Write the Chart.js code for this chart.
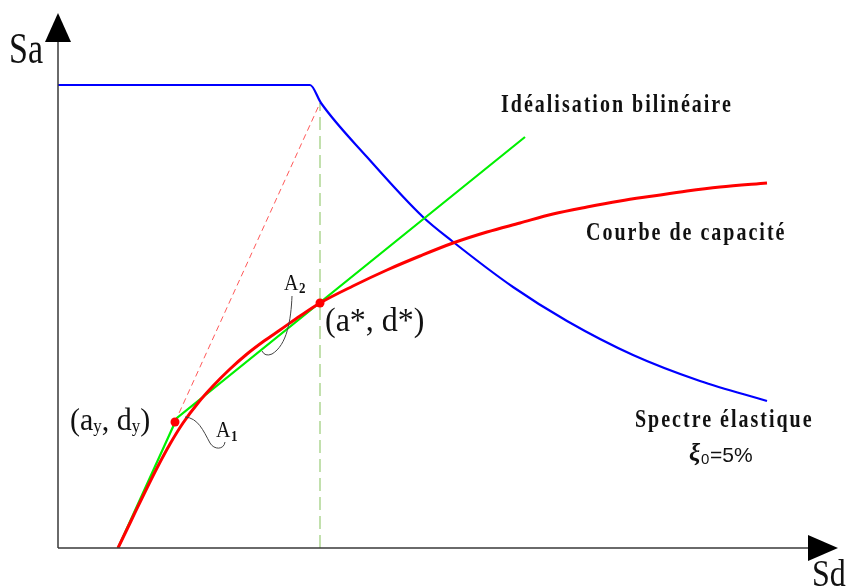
<!DOCTYPE html>
<html>
<head>
<meta charset="utf-8">
<script src="https://cdn.jsdelivr.net/npm/chart.js@4.4.1/dist/chart.umd.min.js"></script>
<style>
  body { margin: 0; background: #fff; }
  canvas { display: block; }
</style>
</head>
<body>
<canvas id="myChart" width="854" height="587"></canvas>
<script>
// spectre elastique (xi0 = 5%)
const spectreSd = [0, 25.2, 26.3, 30.9, 36.5, 39.4, 45.5, 50.9, 57.5, 64.2, 70.9];
const spectreSa = [46.3, 46.3, 44.5, 39.1, 33.1, 30.7, 26.1, 22.7, 19.3, 16.7, 14.7];

// courbe de capacite
const capaciteSd = [6.0, 7.3, 8.6, 9.9, 11.2, 12.5, 14.0, 15.5, 17.2, 18.9, 20.6, 22.2, 24.2, 26.2,
  29.5, 32.9, 36.2, 39.5, 42.9, 46.2, 49.5, 52.9, 56.2, 59.5, 62.9, 66.2, 70.9];
const capaciteSa = [0, 2.7, 5.4, 8.0, 10.4, 12.5, 14.5, 16.2, 17.9, 19.4, 20.7, 21.8, 23.2, 24.5,
  26.2, 27.8, 29.2, 30.5, 31.6, 32.5, 33.4, 34.1, 34.7, 35.2, 35.7, 36.1, 36.5];

// idealisation bilineaire
const bilinSd = [6.0, 11.9, 46.7];
const bilinSa = [0, 13.0, 41.1];

// (ay, dy) et (a*, d*)
const pointsSd = [11.7, 26.2];
const pointsSa = [12.6, 24.5];

// rigidite initiale prolongee jusqu'au spectre, et verticale en d*
const rigidSd = [11.7, 26.2];
const rigidSa = [12.6, 44.5];
const dstarSd = [26.2, 26.2];
const dstarSa = [0, 44.5];

const toXY = (xs, ys) => xs.map((x, i) => ({ x: x, y: ys[i] }));

// axes, fleches, textes et traits de repere
const decor = {
  id: 'decor',
  afterDatasetsDraw(chart) {
    const c = chart.ctx;
    const X = v => chart.scales.x.getPixelForValue(v);
    const Y = v => chart.scales.y.getPixelForValue(v);
    const x0 = X(0), y0 = Y(0);

    c.save();
    c.strokeStyle = '#3a3a3a';
    c.fillStyle = '#000';
    c.lineWidth = 1.5;
    c.beginPath();
    c.moveTo(x0, y0);
    c.lineTo(x0, 40);
    c.moveTo(x0, y0);
    c.lineTo(810, y0);
    c.stroke();
    // fleches
    c.beginPath();
    c.moveTo(x0 - 13, 42); c.lineTo(x0 + 13, 42); c.lineTo(x0, 13); c.closePath();
    c.fill();
    c.beginPath();
    c.moveTo(808, y0 - 13); c.lineTo(808, y0 + 13); c.lineTo(838, y0); c.closePath();
    c.fill();

    // traits de repere A1, A2
    c.strokeStyle = '#444';
    c.lineWidth = 1;
    c.beginPath();
    c.moveTo(185, 417);
    c.bezierCurveTo(198, 418, 203, 430, 210, 443);
    c.bezierCurveTo(214, 450, 224, 450, 225, 442);
    c.stroke();
    c.beginPath();
    c.moveTo(292, 296);
    c.bezierCurveTo(291, 320, 287, 345, 272, 354);
    c.quadraticCurveTo(265, 357, 262, 351);
    c.stroke();
    c.restore();

    const txt = (s, x, y, font, sy) => {
      c.save();
      c.translate(x, y);
      c.scale(1, sy || 1);
      c.font = font;
      c.fillStyle = '#111';
      c.textBaseline = 'alphabetic';
      c.fillText(s, 0, 0);
      c.restore();
    };
    const serif = '"Liberation Serif", "Times New Roman", serif';
    const sans = '"Liberation Sans", Arial, sans-serif';

    txt('Sa', 9, 63, '34px ' + serif, 1.3);
    txt('Sd', 812, 586, '32px ' + serif, 1.2);

    c.save();
    c.letterSpacing = '2px';
    txt('Idéalisation bilinéaire', 501, 112, 'bold 20px ' + serif, 1.25);
    txt('Courbe de capacité', 586, 240, 'bold 20px ' + serif, 1.25);
    txt('Spectre élastique', 635, 427, 'bold 20px ' + serif, 1.25);
    c.restore();

    txt('ξ', 689, 461, 'italic bold 25px ' + serif, 1);
    txt('0', 701, 464, '15px ' + sans, 1);
    txt('=5%', 710, 462, '21px ' + sans, 1);

    // (a*, d*)
    txt('(a*, d*)', 325, 331, '32px ' + serif, 1.05);

    // (ay, dy)
    c.save();
    let x = 70;
    const part = (s, f, dy) => {
      txt(s, x, 430 + dy, f, 1.05);
      c.font = f;
      x += c.measureText(s).width;
    };
    part('(a', '30px ' + serif, 0);
    part('y', '17px ' + serif, 2);
    part(', d', '30px ' + serif, 0);
    part('y', '17px ' + serif, 2);
    part(')', '30px ' + serif, 0);
    c.restore();

    // A1, A2
    txt('A', 216, 437, '20px ' + serif, 1.15);
    txt('1', 231, 441, 'bold 13px ' + serif, 1.1);
    txt('A', 284, 290, '20px ' + serif, 1.15);
    txt('2', 299, 293, 'bold 13px ' + serif, 1.1);
  }
};

const ctx = document.getElementById('myChart');
const chart = new Chart(ctx, {
  type: 'scatter',
  data: {
    datasets: [
      {
        label: 'points',
        data: toXY(pointsSd, pointsSa),
        showLine: false,
        pointRadius: 4.5,
        pointBackgroundColor: '#ff0000',
        pointBorderWidth: 0
      },
      {
        label: 'Courbe de capacité',
        data: toXY(capaciteSd, capaciteSa),
        showLine: true,
        borderColor: '#ff0000',
        borderWidth: 3,
        pointRadius: 0,
        cubicInterpolationMode: 'monotone'
      },
      {
        label: 'Idéalisation bilinéaire',
        data: toXY(bilinSd, bilinSa),
        showLine: true,
        borderColor: '#00f000',
        borderWidth: 2.2,
        pointRadius: 0
      },
      {
        label: 'Spectre élastique',
        data: toXY(spectreSd, spectreSa),
        showLine: true,
        borderColor: '#0000ff',
        borderWidth: 2.2,
        pointRadius: 0,
        cubicInterpolationMode: 'monotone'
      },
      {
        label: 'rigidite',
        data: toXY(rigidSd, rigidSa),
        showLine: true,
        borderColor: 'rgba(255,60,60,0.85)',
        borderWidth: 1,
        borderDash: [6, 4],
        pointRadius: 0
      },
      {
        label: 'd*',
        data: toXY(dstarSd, dstarSa),
        showLine: true,
        borderColor: '#99cc77',
        borderWidth: 1.2,
        borderDash: [13, 6],
        pointRadius: 0
      }
    ]
  },
  options: {
    responsive: false,
    animation: false,
    layout: { padding: { left: 58, right: 16, top: 13, bottom: 39 } },
    scales: {
      x: { type: 'linear', min: 0, max: 78, display: false },
      y: { type: 'linear', min: 0, max: 53.5, display: false }
    },
    plugins: {
      legend: { display: false },
      tooltip: { enabled: false }
    }
  },
  plugins: [decor]
});
</script>
</body>
</html>
